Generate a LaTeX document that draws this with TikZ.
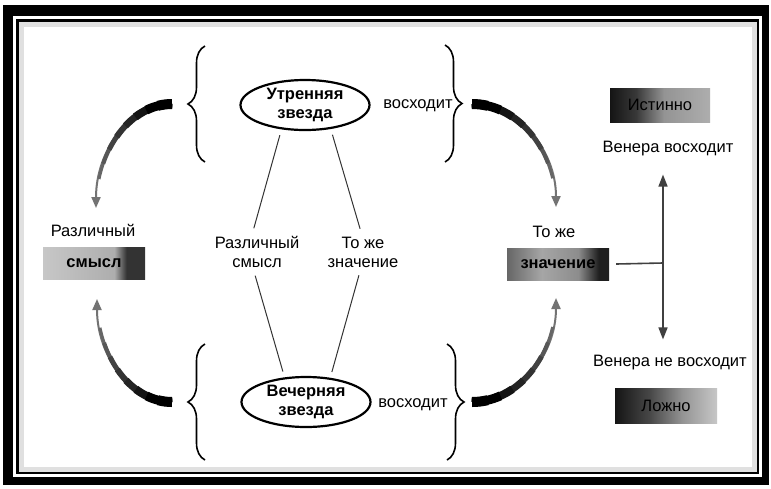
\documentclass[tikz,border=0pt]{standalone}
\usepackage{fontspec}
\setmainfont{Liberation Sans}
\usetikzlibrary{decorations.pathreplacing,shapes.geometric,arrows.meta}

% box fills (25bp = left edge, 75bp = right edge)
\pgfdeclarehorizontalshading{sensefill}{100bp}{color(0bp)=(black!22); color(25bp)=(black!22); color(60bp)=(black!32); color(66bp)=(black!80); color(75bp)=(black!80); color(100bp)=(black!80)}
\pgfdeclarehorizontalshading{meanfill}{100bp}{color(0bp)=(black!60); color(25bp)=(black!60); color(42bp)=(black!35); color(60bp)=(black!45); color(70bp)=(black!88); color(75bp)=(black!88); color(100bp)=(black!88)}
\pgfdeclarehorizontalshading{truefill}{100bp}{color(0bp)=(black!92); color(25bp)=(black!92); color(38bp)=(black!78); color(52bp)=(black!42); color(75bp)=(black!32); color(100bp)=(black!32)}
\pgfdeclarehorizontalshading{falsefill}{100bp}{color(0bp)=(black!92); color(25bp)=(black!92); color(42bp)=(black!72); color(58bp)=(black!42); color(75bp)=(black!22); color(100bp)=(black!22)}

\begin{document}
\begin{tikzpicture}[x=1pt,y=-1pt,
	star node/.style={ellipse, draw=black, line width=2.2pt, minimum width=129pt, minimum height=50pt, inner sep=0pt, align=center, font=\bfseries\fontsize{16.5}{19}\selectfont},
	plain text/.style={align=center, inner sep=2pt, font=\fontsize{16.5}{19}\selectfont},
	value box/.style={rectangle, shade, minimum height=32pt, minimum width=102pt, inner sep=0pt, font=\bfseries\fontsize{16.5}{18}\selectfont},
	thin link/.style={line width=1pt, black!80, shorten <=6pt, shorten >=6pt},
	brace line/.style={decorate, decoration={brace, amplitude=17pt}, line width=1.6pt},
	fat arrow/.style={line width=2pt, black!55, -{Triangle[width=9pt,length=11pt]}},
	fork arrow/.style={line width=1.6pt, black!75, -{Triangle[width=9pt,length=12pt]}}]
	\useasboundingbox (0,0) rectangle (771,488);
	% frame
	\fill[white] (0,0) rectangle (771,488);
	\fill[black] (3,5) rectangle (769,485);
	\fill[white] (13,16) rectangle (762,477);
	\draw[line width=2.5pt] (17.5,20.5) rectangle (758,473);
	\draw[black!12, line width=5pt] (21.5,24.5) rectangle (754.5,469.5);
	
	\node[star node] (mstar) at (305,105) {Утренняя\\звезда};
	\node[star node] (estar) at (306,402) {Вечерняя\\звезда};
	\node[plain text] (mrise) at (418,106) {восходит};
	\node[plain text] (erise) at (413,405) {восходит};
	\node[plain text] (difsense) at (257,252) {Различный\\смысл};
	\node[plain text] (samemean) at (363,252) {То же\\значение};
	
	\node[plain text] (difword) at (93,230) {Различный};
	\node[value box, shading=sensefill] (sense) at (94,263) {смысл};
	\node[plain text] (sameword) at (554,232) {То же};
	\node[value box, shading=meanfill] (meaning) at (558,264) {значение};
	
	\node[value box, shading=truefill, minimum height=34pt, minimum width=100pt, font=\fontsize{16.5}{18}\selectfont] (truth) at (660,105) {Истинно};
	\node[plain text] (rises) at (668,149) {Венера восходит};
	\node[plain text] (notrises) at (670,363) {Венера не восходит};
	\node[value box, shading=falsefill, minimum height=35pt, font=\fontsize{16.5}{18}\selectfont] (falsity) at (666,406) {Ложно};
	\coordinate (fork) at (663,263);
	
	% braces
	\draw[brace line] (205,162) -- (205,46);
	\draw[brace line] (445,45) -- (445,162);
	\draw[brace line] (205,460) -- (205,344);
	\draw[brace line] (447,344) -- (447,460);
	
	% arrows out of the braces, thick at the start
	\coordinate (mls) at (172,104);
	\coordinate (mrs) at (472,104);
	\coordinate (els) at (172,402);
	\coordinate (ers) at (472,402);
	\foreach \p/\s/\d/\rx/\ry in {mls/-90/-90/76/104, mrs/-90/90/84/103, els/90/90/75/103, ers/90/-90/84/104}{
		\draw[fat arrow] (\p) arc[start angle=\s, delta angle=\d, x radius=\rx, y radius=\ry];
		\foreach \w/\f/\c in {3/.82/black!60, 4/.72/black!66, 5/.62/black!74, 6/.52/black!80, 7/.42/black!86, 8/.32/black!92, 9/.22/black, 10/.12/black}
		\draw[line width=\w pt, \c] (\p) arc[start angle=\s, delta angle=\f*\d, x radius=\rx, y radius=\ry];
	}
	
	\path[thin link]
	(mstar.226) edge (difsense.105)
	(mstar.317) edge (samemean.94)
	(difsense.259) edge (estar.131)
	(samemean.262) edge (estar.45);
	
	\draw[fork arrow, -] (meaning.east) ++(7,0) -- (fork);
	\draw[fork arrow, shorten >=16pt] (fork) -- (fork |- rises.south);
	\draw[fork arrow, shorten >=14pt] (fork) -- (fork |- notrises.north);
\end{tikzpicture}
\end{document}
